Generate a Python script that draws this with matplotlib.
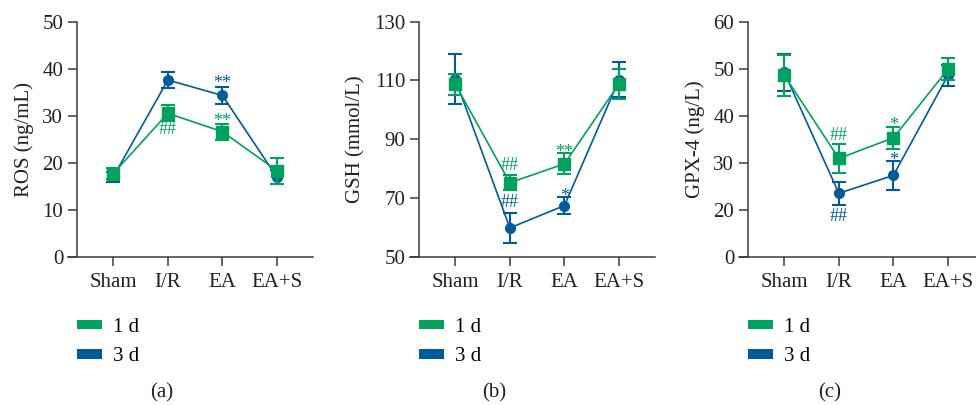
import matplotlib.pyplot as plt
from matplotlib.patches import Patch

plt.rcParams['font.family'] = ['Liberation Serif', 'DejaVu Serif']

groups = ['Sham', 'I/R', 'EA', 'EA+S']

# ROS (ng/mL)
ros_1d = [17.7, 30.5, 26.6, 18.3]
ros_1d_err = [1.1, 1.7, 1.7, 2.8]
ros_3d = [17.0, 37.6, 34.3, 16.9]
ros_3d_err = [1.0, 1.8, 1.8, 1.5]

# GSH (mmol/L)
gsh_1d = [108.7, 75.2, 81.6, 108.8]
gsh_1d_err = [3.5, 2.6, 3.6, 5.0]
gsh_3d = [110.5, 59.8, 67.4, 110.2]
gsh_3d_err = [8.5, 5.2, 3.0, 6.0]

# GPX-4 (ng/L)
gpx_1d = [48.6, 30.9, 35.3, 49.9]
gpx_1d_err = [4.4, 3.0, 2.3, 2.3]
gpx_3d = [49.2, 23.5, 27.3, 48.6]
gpx_3d_err = [4.0, 2.4, 3.1, 2.2]

# significance marks: (series, group index, text, y)
ros_marks = [('1d', 1, '##', 27.0), ('1d', 2, '**', 30.0), ('3d', 2, '**', 38.0)]
gsh_marks = [('1d', 1, '##', 81.0), ('3d', 1, '##', 68.5), ('1d', 2, '**', 87.5), ('3d', 2, '*', 72.5)]
gpx_marks = [('1d', 1, '##', 35.7), ('3d', 1, '##', 18.6), ('1d', 2, '*', 39.0), ('3d', 2, '*', 31.6)]

GREEN = '#00a25e'
BLUE = '#005b9b'
AX_COLOR = '#3a3a3a'
FS = 15

fig = plt.figure(figsize=(9.76, 4.05), dpi=100)

panels = [
    dict(left=68, ylabel='ROS (ng/mL)', d1=ros_1d, e1=ros_1d_err, d3=ros_3d, e3=ros_3d_err,
         ylim=(0, 50), ticks=[0, 10, 20, 30, 40, 50], tlabels=None, marks=ros_marks, tag='(a)', tagx=162),
    dict(left=410, ylabel='GSH (mmol/L)', d1=gsh_1d, e1=gsh_1d_err, d3=gsh_3d, e3=gsh_3d_err,
         ylim=(50, 130), ticks=[50, 70, 90, 110, 130], tlabels=None, marks=gsh_marks, tag='(b)', tagx=494),
    dict(left=739, ylabel='GPX-4 (ng/L)', d1=gpx_1d, e1=gpx_1d_err, d3=gpx_3d, e3=gpx_3d_err,
         ylim=(10, 60), ticks=[10, 20, 30, 40, 50, 60], tlabels=['0', '20', '30', '40', '50', '60'],
         marks=gpx_marks, tag='(c)', tagx=830),
]

x = list(range(len(groups)))

for p in panels:
    ax = fig.add_axes([p['left'] / 976, 1 - 256.7 / 405, 245 / 976, 235 / 405])
    ax.set_xlim(-0.83, 3.66)
    ax.set_ylim(*p['ylim'])

    ax.errorbar(x, p['d3'], yerr=p['e3'], color=BLUE, marker='o', markersize=7,
                linewidth=1.2, elinewidth=1.5, capsize=5, capthick=1.5, zorder=3, clip_on=False)
    ax.errorbar(x, p['d1'], yerr=p['e1'], color=GREEN, marker='s', markersize=8,
                linewidth=1.2, elinewidth=1.5, capsize=5, capthick=1.5, zorder=4, clip_on=False)

    for series, i, txt, yv in p['marks']:
        c = GREEN if series == '1d' else BLUE
        # asterisks sit high in the glyph box, pull them down a little
        dy = -4 if txt.startswith('*') else 0
        ax.annotate(txt, (i, yv), xytext=(0, dy), textcoords='offset points',
                    color=c, fontsize=13, ha='center', va='center')

    for s in ['top', 'right']:
        ax.spines[s].set_visible(False)
    ax.spines['left'].set_position(('data', -0.663))
    for s in ['left', 'bottom']:
        ax.spines[s].set_color(AX_COLOR)
        ax.spines[s].set_linewidth(1.1)

    ax.set_xticks(x)
    ax.set_xticklabels(groups)
    ax.set_yticks(p['ticks'])
    if p['tlabels']:
        ax.set_yticklabels(p['tlabels'])
    ax.tick_params(axis='both', length=6.5, width=1.1, color=AX_COLOR, labelsize=FS,
                   labelcolor='#222222')
    ax.tick_params(axis='x', pad=5)
    ax.set_ylabel(p['ylabel'], fontsize=FS, color='#222222', labelpad=6)

    handles = [Patch(facecolor=GREEN, edgecolor='none'), Patch(facecolor=BLUE, edgecolor='none')]
    ax.legend(handles, ['1 d', '3 d'], loc='upper left',
              bbox_to_anchor=((p['left'] + 9) / 976, 1 - 318 / 405),
              bbox_transform=fig.transFigure, frameon=False, fontsize=FS,
              handlelength=1.2, handleheight=0.34, handletextpad=0.55,
              labelspacing=0.5, borderpad=0, borderaxespad=0)

    fig.text(p['tagx'] / 976, 1 - 393 / 405, p['tag'], fontsize=FS, ha='center', va='center',
             color='#222222')

fig.savefig('out.png', dpi=100)
